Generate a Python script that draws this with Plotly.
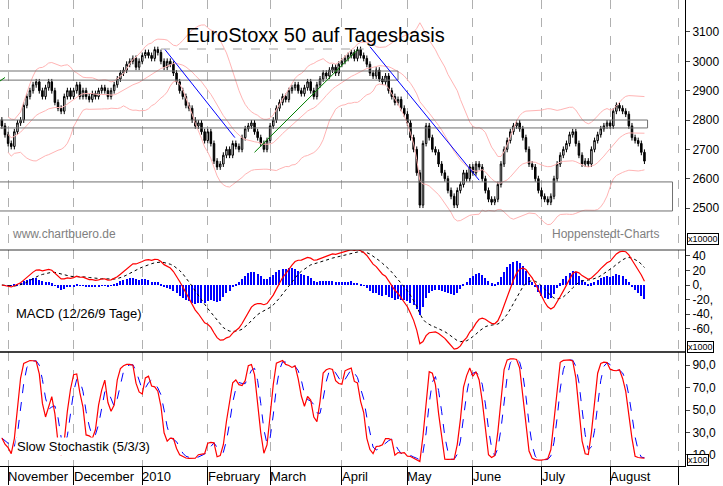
import plotly.graph_objects as go
from plotly.subplots import make_subplots
import pandas as pd

# Tagesschlusskurse EuroStoxx 50, je Monat
oct_09 = [2780, 2750]
nov_09 = [2720, 2710, 2760, 2790, 2800, 2850, 2880, 2900, 2920, 2930, 2900,
          2880, 2910, 2930, 2900, 2860, 2840, 2830, 2880, 2900, 2880]
dec_09 = [2900, 2920, 2880, 2900, 2880, 2870, 2890, 2880, 2900, 2910, 2900,
          2880, 2900, 2920, 2940, 2960, 2970, 2990, 3000, 3010, 2980, 3000]
jan_10 = [3020, 3030, 3020, 3010, 3040, 3030, 3000, 2980, 3000, 2990, 2960,
          2930, 2900, 2880, 2850, 2840, 2800, 2780, 2790, 2760, 2730]
feb_10 = [2760, 2720, 2660, 2640, 2650, 2680, 2700, 2680, 2720, 2710, 2700,
          2740, 2770, 2780, 2790, 2760, 2740, 2720, 2700, 2730]
mar_10 = [2780, 2800, 2840, 2860, 2880, 2870, 2900, 2910, 2920, 2900, 2890,
          2910, 2930, 2900, 2880, 2920, 2940, 2960, 2950, 2970, 2980, 2960, 2990]
apr_10 = [3000, 3010, 3020, 3030, 3010, 3040, 3020, 3010, 2990, 2960, 2950,
          2970, 2940, 2930, 2950, 2900, 2880, 2860, 2870, 2840, 2820]
may_10 = [2790, 2740, 2700, 2620, 2510, 2720, 2780, 2740, 2700, 2690, 2650,
          2620, 2600, 2560, 2540, 2510, 2560, 2580, 2620, 2600, 2640]
jun_10 = [2620, 2650, 2640, 2600, 2560, 2530, 2520, 2530, 2580, 2650, 2700,
          2730, 2760, 2780, 2790, 2770, 2740, 2700, 2650, 2640, 2600, 2560]
jul_10 = [2540, 2530, 2520, 2540, 2600, 2650, 2680, 2700, 2720, 2750, 2760,
          2720, 2680, 2650, 2660, 2650, 2700, 2730, 2750, 2770, 2780, 2790]
aug_10 = [2780, 2830, 2850, 2840, 2830, 2820, 2780, 2740, 2730, 2720, 2690, 2660]

months = [oct_09, nov_09, dec_09, jan_10, feb_10, mar_10, apr_10, may_10, jun_10, jul_10, aug_10]
month_labels = ['November', 'December', '2010', 'February', 'March', 'April',
                'May', 'June', 'July', 'August', '']

# Unterstützungs-/Widerstandszonen und Trendlinien (Index, Kurs)
zones = [(-1, 127, 2936, 2967), (-1, 207, 2773, 2800), (-1, 215, 2490, 2589)]
dotted_top = [(51, 116, 3042)]
blue_lines = [((52.3, 3040), (74.7, 2740)), ((118, 3050), (153, 2595))]
green_lines = [((81, 2690), (114.1, 3040)), ((-1, 2930), (1, 2945))]

closes = [c for m in months for c in m]
month_starts = []
n = 0
for m in months:
    n += len(m)
    month_starts.append(n)

s = pd.Series(closes, dtype=float)
opens = s.shift(1).fillna(s.iloc[0] + 20)
highs = pd.concat([opens, s], axis=1).max(axis=1) + 10
lows = pd.concat([opens, s], axis=1).min(axis=1) - 10
x = list(range(len(closes)))

# Bollinger
mid = s.rolling(20, min_periods=3).mean()
sd = s.rolling(20, min_periods=3).std()
upper, lower = mid + 2 * sd, mid - 2 * sd

# MACD
macd = s.ewm(span=12).mean() - s.ewm(span=26).mean()
signal = macd.ewm(span=9).mean()
hist = macd - signal

# Slow Stochastik 5/3/3
hh = highs.rolling(5, min_periods=1).max()
ll = lows.rolling(5, min_periods=1).min()
fast_k = 100 * (s - ll) / (hh - ll)
slow_k = fast_k.rolling(3, min_periods=1).mean()
slow_d = slow_k.rolling(3, min_periods=1).mean()

fig = make_subplots(rows=3, cols=1, shared_xaxes=True, vertical_spacing=0)

pink = '#ffb4b4'
for band in [upper, mid, lower]:
    fig.add_trace(go.Scatter(x=x, y=band, mode='lines', line=dict(color=pink, width=1)), row=1, col=1)

fig.add_trace(go.Candlestick(x=x, open=opens, high=highs, low=lows, close=s,
                             increasing=dict(line=dict(color='black', width=1), fillcolor='white'),
                             decreasing=dict(line=dict(color='black', width=1), fillcolor='black'),
                             whiskerwidth=0), row=1, col=1)

for x0, x1, y0, y1 in zones:
    fig.add_shape(type='rect', x0=x0, x1=x1, y0=y0, y1=y1, line=dict(color='#707070', width=1),
                  row=1, col=1)
for x0, x1, yv in dotted_top:
    fig.add_shape(type='line', x0=x0, x1=x1, y0=yv, y1=yv, line=dict(color='#a0a0a0', width=1, dash='dash'),
                  row=1, col=1)
for (a, b) in blue_lines:
    fig.add_shape(type='line', x0=a[0], y0=a[1], x1=b[0], y1=b[1], line=dict(color='blue', width=1), row=1, col=1)
for (a, b) in green_lines:
    fig.add_shape(type='line', x0=a[0], y0=a[1], x1=b[0], y1=b[1], line=dict(color='green', width=1), row=1, col=1)

fig.add_trace(go.Bar(x=x, y=hist, marker=dict(color='blue', line=dict(width=0)), width=0.35), row=2, col=1)
fig.add_trace(go.Scatter(x=x, y=signal, mode='lines', line=dict(color='black', width=1, dash='dot')), row=2, col=1)
fig.add_trace(go.Scatter(x=x, y=macd, mode='lines', line=dict(color='red', width=1.2)), row=2, col=1)

fig.add_hline(y=80, line=dict(color='blue', width=1.5), row=3, col=1)
fig.add_hline(y=20, line=dict(color='blue', width=1.5), row=3, col=1)
fig.add_trace(go.Scatter(x=x, y=slow_d, mode='lines', line=dict(color='blue', width=1, dash='dash')), row=3, col=1)
fig.add_trace(go.Scatter(x=x, y=slow_k, mode='lines', line=dict(color='red', width=1.2)), row=3, col=1)

ticks = [month_starts[0]] + month_starts[1:-1] + [month_starts[-1] + 10]
common_x = dict(range=[-0.6, 219], autorange=False, showgrid=True, gridcolor='#b0b0b0', griddash='dash',
                gridwidth=1, tickvals=ticks, showticklabels=False, zeroline=False,
                rangeslider=dict(visible=False))
for r in (1, 2, 3):
    fig.update_xaxes(common_x, row=r, col=1)
fig.update_xaxes(ticks='outside', ticklen=18, tickcolor='black', showline=True, linecolor='black', row=3, col=1)

yax = dict(side='right', showgrid=False, zeroline=False, showline=True, linecolor='black', ticks='outside',
           ticklen=4, tickfont=dict(family='Arial', size=12, color='black'))
fig.update_yaxes(yax, range=[2357, 3209], tickvals=[2500, 2600, 2700, 2800, 2900, 3000, 3100], row=1, col=1)
fig.update_yaxes(yax, range=[-91.8, 48], tickvals=[40, 20, 0, -20, -40, -60],
                 ticktext=['40', '20', '0,', '-20,', '-40,', '-60,'], row=2, col=1)
fig.update_yaxes(yax, range=[0.1, 101.7], tickvals=[90, 70, 50, 30, 10],
                 ticktext=['90,0', '70,0', '50,0', '30,0', '10,0'], row=3, col=1)

fig.update_layout(
    width=723, height=486, margin=dict(l=0, r=38, t=0, b=20),
    paper_bgcolor='white', plot_bgcolor='white', showlegend=False, bargap=0,
    font=dict(family='Arial', color='black'),
)
# Panel-Aufteilung
fig.update_layout(yaxis=dict(domain=[0.4635, 1]), yaxis2=dict(domain=[0.2446, 0.4635]),
                  yaxis3=dict(domain=[0, 0.2446]))
for yv in [0.4635, 0.2446]:
    fig.add_shape(type='line', xref='paper', yref='paper', x0=0, x1=1, y0=yv, y1=yv,
                  line=dict(color='black', width=1.5 if yv < 0.3 else 0.8))

fig.add_annotation(text='EuroStoxx 50 auf Tagesbasis', xref='paper', yref='paper', x=0.46, y=0.953,
                   showarrow=False, font=dict(size=20, color='black'))
fig.add_annotation(text='www.chartbuero.de', xref='paper', yref='paper', x=0.015, y=0.497, xanchor='left',
                   showarrow=False, font=dict(size=12, color='#808080'))
fig.add_annotation(text='Hoppenstedt-Charts', xref='paper', yref='paper', x=0.965, y=0.497, xanchor='right',
                   showarrow=False, font=dict(size=12, color='#808080'))
fig.add_annotation(text='MACD (12/26/9 Tage)', xref='paper', yref='paper', x=0.02, y=0.307, xanchor='left',
                   showarrow=False, font=dict(size=13))
fig.add_annotation(text='Slow Stochastik (5/3/3)', xref='paper', yref='paper', x=0.022, y=0.022, xanchor='left',
                   showarrow=False, font=dict(size=13), bgcolor='white')
for txt, yv in [('x10000', 0.487), ('x1000', 0.255), ('x100', 0.013)]:
    fig.add_annotation(text=txt, xref='paper', yref='paper', x=1.003, y=yv, xanchor='left', yanchor='middle',
                       showarrow=False, font=dict(size=9), bgcolor='white', bordercolor='black',
                       borderwidth=1, borderpad=0)

for lbl, st in zip(month_labels, month_starts):
    if lbl:
        fig.add_annotation(text=lbl, x=st, xref='x3', yref='paper', y=0, yanchor='top', xanchor='left',
                           showarrow=False, font=dict(size=13), yshift=-1, xshift=-2)

fig.write_html("out.html", config={'displayModeBar': False},
               post_script="document.body.style.margin='0px';")
